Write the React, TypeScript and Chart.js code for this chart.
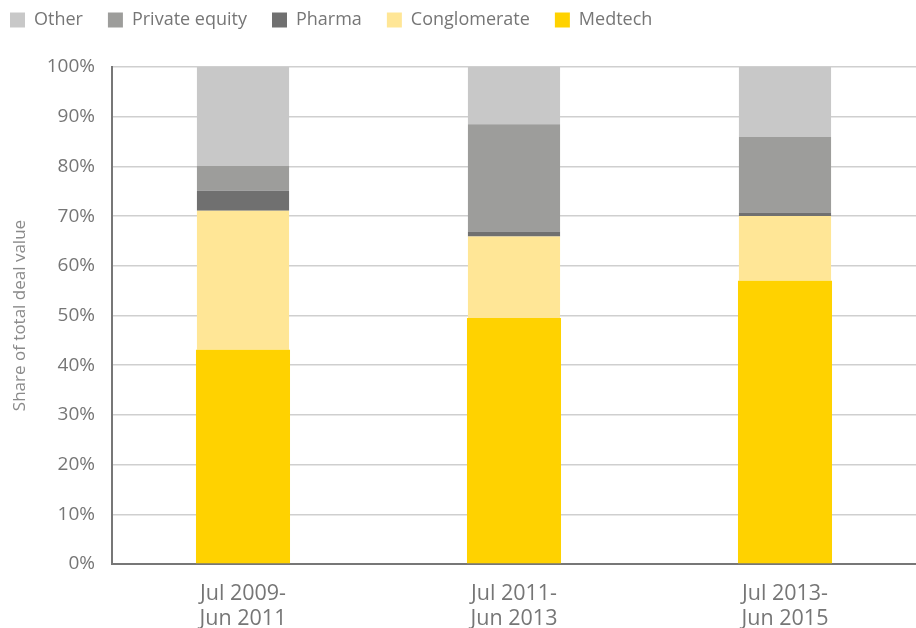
import React, { useEffect, useRef } from "react";
import { Chart, registerables } from "chart.js";

Chart.register(...registerables);

const categories: string[][] = [
  ["Jul 2009-", "Jun 2011"],
  ["Jul 2011-", "Jun 2013"],
  ["Jul 2013-", "Jun 2015"],
];
const medtech = [43.1, 49.5, 57.0];
const conglomerate = [28.0, 16.4, 13.0];
const pharma = [4.0, 1.0, 0.7];
const privateEquity = [5.0, 21.6, 15.2];
const other = [19.9, 11.5, 14.1];
const yTicks = [0, 10, 20, 30, 40, 50, 60, 70, 80, 90, 100];

const FONT = "'Open Sans', sans-serif";
const TEXT = "#767676";

export default function App() {
  const ref = useRef<HTMLCanvasElement | null>(null);
  useEffect(() => {
    document.body.style.margin = "0";
    const canvas = ref.current!;
    const legendPos = {
      id: "legendPos",
      beforeInit(chart: any) {
        const orig = chart.legend.fit;
        chart.legend.fit = function () {
          orig.call(this);
          this.height = 67;
        };
      },
      afterLayout(chart: any) {
        chart.legend.left = -15;
        chart.legend.top = -14;
      },
    };
    const chart = new Chart(canvas, {
      type: "bar",
      data: {
        labels: categories,
        datasets: [
          { label: "Medtech", data: medtech, backgroundColor: "#ffd200", barPercentage: 0.347 },
          { label: "Conglomerate", data: conglomerate, backgroundColor: "#ffe696", barPercentage: 0.34 },
          { label: "Pharma", data: pharma, backgroundColor: "#707070", barPercentage: 0.34 },
          { label: "Private equity", data: privateEquity, backgroundColor: "#9d9d9b", barPercentage: 0.34 },
          { label: "Other", data: other, backgroundColor: "#c8c8c8", barPercentage: 0.34 },
        ],
      },
      plugins: [legendPos],
      options: {
        responsive: false,
        animation: false,
        datasets: { bar: { categoryPercentage: 1 } },
        layout: { padding: { left: 0, right: 0, top: 0, bottom: 0 } },
        plugins: {
          tooltip: { enabled: false },
          legend: {
            position: "top",
            align: "start",
            reverse: true,
            labels: {
              boxWidth: 15,
              boxHeight: 15,
              padding: 25,
              color: TEXT,
              font: { family: FONT, size: 18 },
            },
          },
        },
        scales: {
          x: {
            stacked: true,
            grid: { display: false, drawTicks: false },
            border: { color: "#777777", width: 2 },
            ticks: { color: TEXT, font: { family: FONT, size: 21.5, lineHeight: 1.18 }, padding: 17, maxRotation: 0 },
            afterBuildTicks(scale: any) {
              scale._startValue = -0.4834;
              scale._valueRange = 2.9668;
            },
            afterFit(scale: any) {
              scale.height = 64;
            },
          },
          y: {
            stacked: true,
            min: 0,
            max: 100,
            afterBuildTicks(scale: any) {
              scale.ticks = yTicks.map((v) => ({ value: v }));
            },
            grid: { color: "#cfcfcf", lineWidth: 1.5, drawTicks: false },
            border: { color: "#777777", width: 2 },
            ticks: {
              color: TEXT,
              font: { family: FONT, size: 19 },
              padding: 17,
              callback: (v: any) => v + "%",
            },
            title: {
              display: true,
              text: "Share of total deal value",
              color: "#8a8a8a",
              font: { family: FONT, size: 17 },
              padding: { top: 10, bottom: 0 },
            },
            afterFit(scale: any) {
              scale.width = 112;
            },
          },
        },
      },
    });
    return () => chart.destroy();
  }, []);
  return <canvas ref={ref} width={916} height={628} style={{ display: "block" }} />;
}
